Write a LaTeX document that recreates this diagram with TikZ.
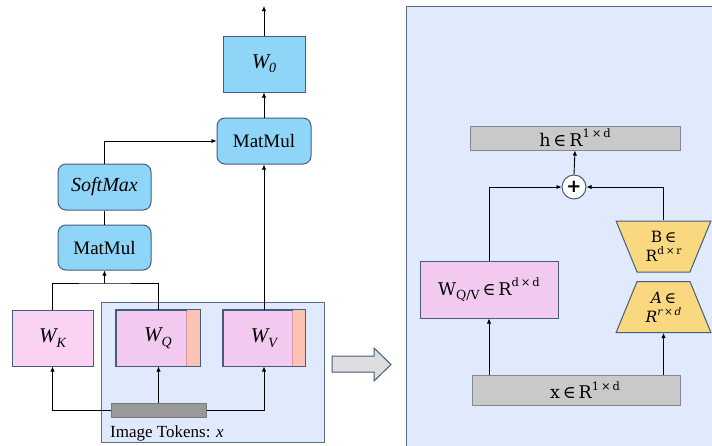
\documentclass[tikz,border=0pt]{standalone}
\usepackage{fontspec}
\setmainfont{Liberation Serif}
\newfontfamily\dvs{DejaVu Serif}
\newfontfamily\dvsans{DejaVu Sans}
\usetikzlibrary{arrows.meta,shapes.geometric}
\definecolor{nodeblue}{RGB}{142,213,248}
\definecolor{edgeblue}{RGB}{70,92,125}
\definecolor{pinkA}{RGB}{250,210,242}
\definecolor{pinkB}{RGB}{242,202,240}
\definecolor{salmon}{RGB}{252,194,180}
\definecolor{stripedge}{RGB}{214,150,165}
\definecolor{panel}{RGB}{224,234,252}
\definecolor{paneledge}{RGB}{95,110,135}
\definecolor{grayfill}{RGB}{201,201,201}
\definecolor{grayedge}{RGB}{130,135,145}
\definecolor{barfill}{RGB}{153,153,153}
\definecolor{baredge}{RGB}{120,120,120}
\definecolor{yell}{RGB}{249,216,128}
\definecolor{arrowfill}{RGB}{222,222,222}
\newcommand\supx[1]{\raisebox{0.5em}{\fontsize{11.5}{11.5}\selectfont #1}}
\newcommand\subx[1]{\raisebox{-0.25em}{\fontsize{12.5}{12.5}\selectfont #1}}
\begin{document}
\begin{tikzpicture}[x=1pt,y=-1pt,
  box/.style={draw=edgeblue,line width=1pt,inner sep=0pt,align=center},
  bluebox/.style={box,fill=nodeblue},
  blueround/.style={bluebox,rounded corners=8pt},
  pinkbox/.style={box,fill=pinkB},
  graybox/.style={box,fill=grayfill,draw=grayedge},
  trap/.style={box,fill=yell,trapezium,trapezium angle=65,trapezium stretches=true,minimum width=95pt,minimum height=51pt},
  arr/.style={-{Latex[length=5pt,width=4.5pt]},line width=0.9pt,black},
  ln/.style={line width=0.9pt,black},
  wfont/.style={font=\fontsize{21}{21}\selectfont\itshape},
  mfont/.style={font=\fontsize{19}{19}\selectfont},
  rfont/.style={font=\dvs\fontsize{17.5}{17.5}\selectfont}
]
\clip (0,0) rectangle (712,445);
\fill[white] (0,0) rectangle (712,445);
% panels
\draw[fill=panel,draw=paneledge,line width=1pt] (101,302) rectangle (324,442);
\draw[fill=panel,draw=paneledge,line width=1pt] (406,6) rectangle (730,460);
\node[anchor=base west,font=\fontsize{17}{17}\selectfont,inner sep=0] (imgtok) at (110,437) {Image Tokens: \textit{x}};
% left nodes
\node[bluebox,wfont,minimum width=82pt,minimum height=56pt] (W0) at (264,64) {W\raisebox{-0.2em}{\fontsize{14}{14}\selectfont 0}};
\node[blueround,mfont,minimum width=94pt,minimum height=46pt] (MMt) at (264,141) {MatMul};
\node[blueround,font=\fontsize{20}{20}\selectfont\itshape,minimum width=93pt,minimum height=46pt] (SM) at (104.5,187) {SoftMax};
\node[blueround,mfont,minimum width=93pt,minimum height=45pt] (MMl) at (104.5,247.5) {MatMul};
\node[box,fill=pinkA,wfont,minimum width=81pt,minimum height=56pt] (WK) at (52.5,338) {W\raisebox{-0.25em}{\fontsize{14}{14}\selectfont K}};
\node[pinkbox,minimum width=84pt,minimum height=56pt] (WQ) at (158,338) {};
\fill[salmon] ([xshift=-14pt]WQ.north east) rectangle (WQ.south east);
\draw[stripedge,line width=0.8pt] ([xshift=-14pt,yshift=-1pt]WQ.north east) -- ([xshift=-14pt,yshift=1pt]WQ.south east);
\draw[edgeblue,line width=1pt] (WQ.north west) rectangle (WQ.south east);
\node[wfont,inner sep=0] at (WQ.center) {W\raisebox{-0.25em}{\fontsize{14}{14}\selectfont Q}};
\node[pinkbox,minimum width=82pt,minimum height=56pt] (WV) at (264,338) {};
\fill[salmon] ([xshift=-13pt]WV.north east) rectangle (WV.south east);
\draw[stripedge,line width=0.8pt] ([xshift=-13pt,yshift=-1pt]WV.north east) -- ([xshift=-13pt,yshift=1pt]WV.south east);
\draw[edgeblue,line width=1pt] (WV.north west) rectangle (WV.south east);
\node[wfont,inner sep=0] at (WV.center) {W\raisebox{-0.25em}{\fontsize{14}{14}\selectfont V}};
\node[box,fill=barfill,draw=baredge,minimum width=95pt,minimum height=14pt] (bar) at (158.5,410) {};
% left connectors
\coordinate (kq) at (104.5,283);
\coordinate (out) at (264,6);
\draw[ln] (WK.north) |- (kq) -| (WQ.north);
\draw[arr] (kq) -- (MMl.south);
\draw[ln] (MMl.north) -- (SM.south);
\draw[arr] (SM.north) |- (MMt.west);
\draw[arr] (WV.north) -- (MMt.south);
\draw[arr] (MMt.north) -- (W0.south);
\draw[arr] (W0.north) -- (out);
\draw[arr] (bar.north) -- (bar.north |- WQ.south);
\draw[arr] (bar.west) -| (WK.south);
\draw[arr] (bar.east) -| (WV.south);
% big arrow
\draw[fill=arrowfill,draw=edgeblue,line width=1pt] (332,356) -- (374,356) -- (374,348) -- (391,364.5) -- (374,381) -- (374,372) -- (332,372) -- cycle;
% right nodes
\node[graybox,rfont,minimum width=210pt,minimum height=24pt] (h) at (575,138) {h\,∈\,R\supx{1\,×\,d}};
\node[circle,draw=edgeblue,fill=white,line width=1pt,minimum size=24pt,inner sep=0,font=\dvsans\bfseries\fontsize{18}{18}\selectfont] (plus) at (574,187) {+};
\node[box,fill=pinkB,rfont,minimum width=138pt,minimum height=57pt] (Wqv) at (489,289.5) {W\subx{Q/V}\,∈\,R\supx{d\,×\,d}};
\node[trap,shape border rotate=180,font=\dvs\fontsize{15.5}{19}\selectfont] (B) at (663.5,246.5) {B\,∈\\R\raisebox{0.45em}{\fontsize{10.5}{10.5}\selectfont d\,×\,r}};
\node[trap,font=\dvs\itshape\fontsize{15.5}{19}\selectfont] (A) at (663.5,307) {A\,∈\\R\raisebox{0.45em}{\fontsize{10.5}{10.5}\selectfont r\,×\,d}};
\node[graybox,rfont,minimum width=208pt,minimum height=30pt] (x) at (576,390) {\hspace*{18pt}x\,∈\,R\supx{1\,×\,d}};
% right connectors
\draw[arr] (x.north -| Wqv.south) -- (Wqv.south);
\draw[arr] (x.north -| A.south) -- (A.south);
\draw[arr] (Wqv.north) |- (plus.west);
\draw[arr] (B.north) |- (plus.east);
\draw[arr] (plus.north) -- (h.south);
\end{tikzpicture}
\end{document}
